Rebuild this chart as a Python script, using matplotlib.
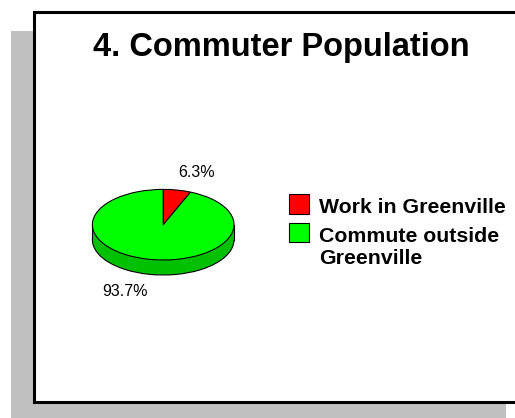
import matplotlib
matplotlib.use("Agg")
import matplotlib.pyplot as plt
from matplotlib.patches import Rectangle

plt.rcParams['font.family'] = ['Liberation Sans', 'DejaVu Sans']

title = "4. Commuter Population"
categories = ["Work in Greenville", "Commute outside\nGreenville"]
values = [6.3, 93.7]
top_colors = ["#FF0000", "#00FF00"]
side_colors = ["#C00000", "#00C000"]

W, H = 515, 418
fig = plt.figure(figsize=(W / 100, H / 100), dpi=100)
fig.patch.set_facecolor("white")

# background / frame axes in pixel coordinates
bg = fig.add_axes([0, 0, 1, 1])
bg.set_xlim(0, W)
bg.set_ylim(H, 0)
bg.axis("off")
bg.add_patch(Rectangle((11, 31), 495, 390, facecolor="#C0C0C0", edgecolor="none", zorder=0))
bg.add_patch(Rectangle((33.5, 11.5), 500, 390.5, facecolor="white", edgecolor="black",
                       linewidth=2.2, zorder=1))
bg.text(281.5, 55.7, title, ha="center", va="baseline", fontsize=23.5,
        fontweight="bold", zorder=3)

# legend (manual)
leg_y = [194, 222.5]
for i, (lab, col) in enumerate(zip(categories, top_colors)):
    bg.add_patch(Rectangle((289, leg_y[i]), 19.5, 19.5, facecolor=col,
                           edgecolor="black", linewidth=0.8, zorder=3))
    bg.text(319, leg_y[i] + 4, lab, ha="left", va="top", fontsize=15.3,
            fontweight="bold", linespacing=1.2, zorder=3)

# value labels
label_pos = [(196.5, 172.5), (125, 291.5)]
for (x, y), v in zip(label_pos, values):
    bg.text(x, y, f"{v:.1f}%", ha="center", va="center", fontsize=11.5, zorder=3)

# pie axes: unit circle -> rx=70.8px, ry=35.3px
rx, ry = 70.8, 35.3
cx, cy = 163.2, H - 224.7
depth = 15.0 / ry
xl, xr = -1.6, 1.6
yb, yt = -2.0, 1.6
left = cx + xl * rx
bottom = cy + yb * ry
ax = fig.add_axes([left / W, bottom / H, (xr - xl) * rx / W, (yt - yb) * ry / H])
ax.patch.set_alpha(0)

wp = dict(edgecolor="black", linewidth=0.8)
ax.pie(values, colors=side_colors, startangle=90, counterclock=False,
       center=(0, -depth), wedgeprops=wp)
ax.fill_between([-1, 1], -depth, 0, color=side_colors[1], linewidth=0, zorder=2)
ax.plot([-1, -1], [0, -depth], color="black", linewidth=0.8, zorder=2)
ax.plot([1, 1], [0, -depth], color="black", linewidth=0.8, zorder=2)
wedges, _ = ax.pie(values, colors=top_colors, startangle=90, counterclock=False,
                   wedgeprops=wp)
for w in wedges:
    w.set_zorder(3)
ax.set_aspect("auto")
ax.set_xlim(xl, xr)
ax.set_ylim(yb, yt)
ax.axis("off")

fig.savefig("out.png", dpi=100)
